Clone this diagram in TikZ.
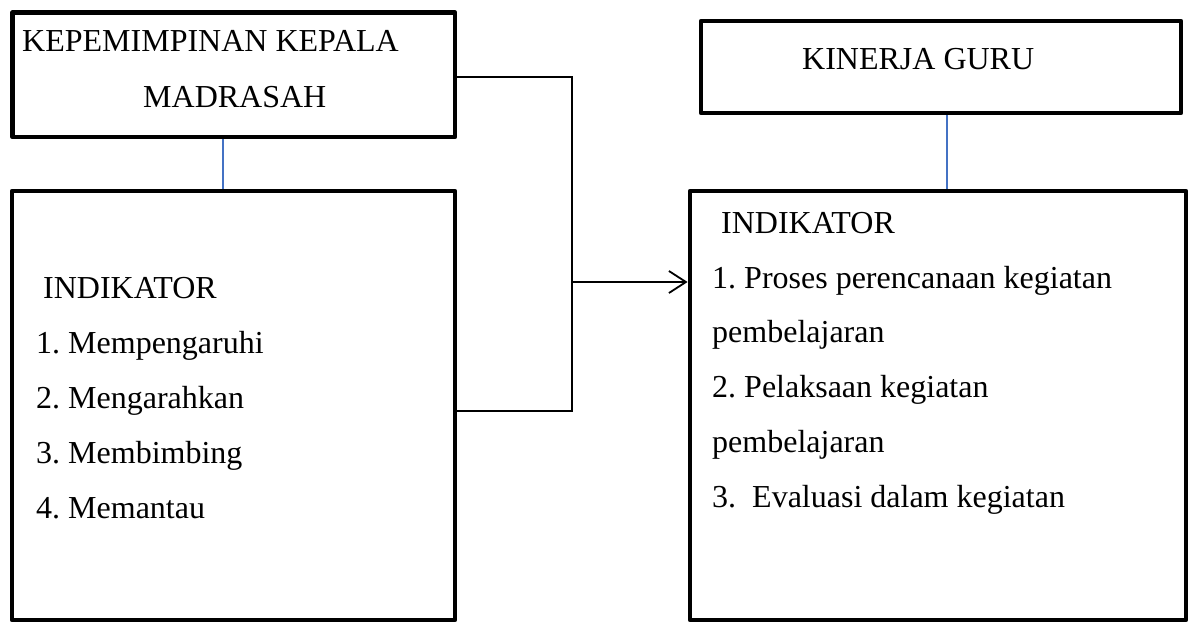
\documentclass[tikz,border=0pt]{standalone}
\usepackage{fontspec}
\setmainfont{Liberation Serif}
\usetikzlibrary{arrows.meta}
\definecolor{linkblue}{RGB}{68,114,196}
\frenchspacing
\begin{document}
\begin{tikzpicture}[x=1pt,y=1pt,
  frame/.style={draw=black, line width=4.8pt, line join=round, inner sep=0pt, rectangle},
  lbl/.style={inner sep=0pt, anchor=base west, font=\fontsize{32}{38}\selectfont\frenchspacing},
  wire/.style={draw=black, line width=1.8pt},
  blueline/.style={draw=linkblue, line width=2pt},
  arrowline/.style={wire, -{Straight Barb[length=17pt,width=22pt,line width=1.8pt]}}]
\useasboundingbox (0,0) rectangle (1190,-623);
% boxes
\node[frame, minimum width=442.5pt, minimum height=124.5pt] (box1) at (233.75,-74.75) {};
\node[frame, minimum width=443pt, minimum height=429pt] (box2) at (233.5,-405.5) {};
\node[frame, minimum width=480pt, minimum height=92pt] (box3) at (941,-67) {};
\node[frame, minimum width=496pt, minimum height=429pt] (box4) at (938,-405.5) {};
% texts
\node[lbl] (t1) at (22,-52) {KEPEMIMPINAN KEPALA};
\node[lbl] (t2) at (143,-107) {MADRASAH};
\node[lbl] (t3) at (802,-70) {KINERJA GURU};
\node[lbl] (l0) at (43,-298) {INDIKATOR};
\node[lbl] (l1) at (36,-353) {1. Mempengaruhi};
\node[lbl] (l2) at (36,-408) {2. Mengarahkan};
\node[lbl] (l3) at (36,-463) {3. Membimbing};
\node[lbl] (l4) at (36,-518) {4. Memantau};
\node[lbl] (r0) at (721,-233) {INDIKATOR};
\node[lbl] (r1) at (712,-288) {1. Proses perencanaan kegiatan};
\node[lbl] (r2) at (712,-342) {pembelajaran};
\node[lbl] (r3) at (712,-397) {2. Pelaksaan kegiatan};
\node[lbl] (r4) at (712,-452) {pembelajaran};
\node[lbl] (r5) at (712,-507) {3.\ \ Evaluasi dalam kegiatan};
% blue links
\coordinate (bl1) at (223,0);
\coordinate (bl2) at (947,0);
\draw[blueline] (box1.south -| bl1) -- (box2.north -| bl1);
\draw[blueline] (box3.south -| bl2) -- (box4.north -| bl2);
% connector
\coordinate (jt) at (572,-77);
\coordinate (jb) at (572,-411);
\coordinate (jm) at (572,-282);
\draw[wire] (box1.east |- jt) -- (jt) -- (jb) -- (box2.east |- jb);
\draw[arrowline] (jm) -- (box4.west |- jm);
\end{tikzpicture}
\end{document}
